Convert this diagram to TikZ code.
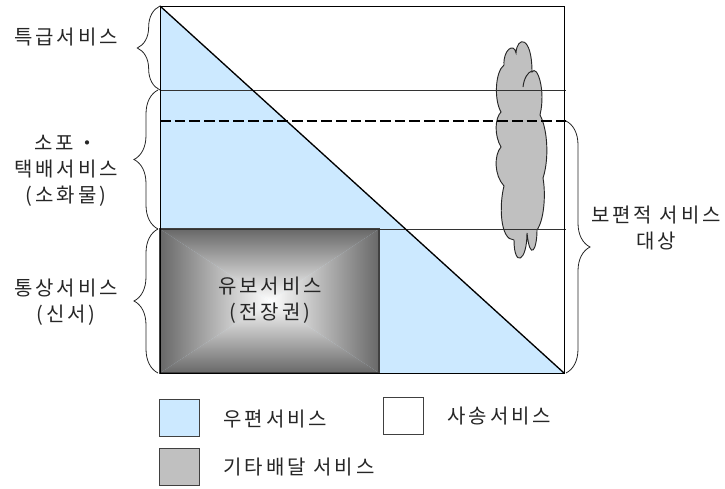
\documentclass[tikz,border=0pt]{standalone}
\usepackage{fontspec}
\setmainfont[LetterSpace=15]{Noto Sans CJK KR}
\usetikzlibrary{decorations.pathreplacing}
\definecolor{postalBlue}{RGB}{204, 233, 255}
\definecolor{otherGrey}{RGB}{192, 192, 192}
\definecolor{edgeGrey}{RGB}{104, 104, 104}
\definecolor{midGrey}{RGB}{196, 196, 196}
\begin{document}
\begin{tikzpicture}[
  x=0.75pt,y=-0.75pt,
  label/.style={align=center,font=\fontsize{15}{19.5}\selectfont,text=black!85,inner sep=0pt},
  legendbox/.style={draw=black!75,minimum width=30pt,minimum height=28pt,inner sep=0pt,thick},
  legendtext/.style={font=\fontsize{15}{17}\selectfont,text=black!85,inner sep=0pt,anchor=west},
  bracket/.style={decorate,decoration={brace,amplitude=#1},semithick,black!85},
  rule/.style={black!80,line width=0.7pt}
]
  \useasboundingbox (0,0) rectangle (725,489);
  % corners of the chart
  \coordinate (tl) at (160,6);
  \coordinate (tr) at (564,6);
  \coordinate (bl) at (160,373);
  \coordinate (br) at (564,373);
  \coordinate (gt) at (379,229);
  \coordinate (gb) at (379,373);
  \coordinate (gl) at (160,229);
  \coordinate (gc) at (270,301);
  \fill[postalBlue] (tl) -- (br) -- (bl) -- cycle;
  % gradient box
  \shade[top color=edgeGrey,middle color=midGrey,bottom color=white] (gl) -- (gt) -- (gc) -- cycle;
  \shade[bottom color=edgeGrey,middle color=midGrey,top color=white] (bl) -- (gb) -- (gc) -- cycle;
  \shade[left color=edgeGrey,middle color=midGrey,right color=white] (gl) -- (bl) -- (gc) -- cycle;
  \shade[right color=edgeGrey,middle color=midGrey,left color=white] (gt) -- (gb) -- (gc) -- cycle;
  \draw[black!75,thick] (gl) rectangle (gb);
  % cloud
  \draw[fill=otherGrey,draw=black!85,line width=0.7pt] (504,65)
    .. controls (503,50) and (514,42) .. (516,53)
    .. controls (517,36) and (532,35) .. (532,72)
    .. controls (537,64) and (546,90) .. (540,115)
    .. controls (548,130) and (549,160) .. (543,178)
    .. controls (546,195) and (544,220) .. (537,230)
    .. controls (537,250) and (530,262) .. (527,233)
    .. controls (527,262) and (514,268) .. (514,240)
    .. controls (500,240) and (499,205) .. (504,186)
    .. controls (494,175) and (494,155) .. (501,147)
    .. controls (494,135) and (495,118) .. (501,112)
    .. controls (494,100) and (495,72) .. (504,65) -- cycle;
  \draw[black!85,line width=0.7pt] (523,87) .. controls (524,78) and (528,72) .. (532,71);
  % lines
  \coordinate (l1) at (160,90);
  \coordinate (r1) at (566,90);
  \coordinate (l2) at (160,229);
  \coordinate (r2) at (566,229);
  \coordinate (l3) at (160,121);
  \coordinate (r3) at (566,121);
  \draw[rule] (l1) -- (r1);
  \draw[rule] (l2) -- (r2);
  \draw[dashed,line width=1.5pt,dash pattern=on 8pt off 3pt] (l3) -- (r3);
  \draw[line width=0.7pt] (tl) rectangle (br);
  \draw[line width=1pt] (tl) -- (br);
  % braces
  \coordinate (b1a) at (160,90);
  \coordinate (b1b) at (160,6);
  \coordinate (b2a) at (158,229);
  \coordinate (b2b) at (158,90);
  \coordinate (b3a) at (158,373);
  \coordinate (b3b) at (158,229);
  \coordinate (b4a) at (566,121);
  \coordinate (b4b) at (566,373);
  \draw[bracket=17pt] (b1a) -- (b1b);
  \draw[bracket=18pt] (b2a) -- (b2b);
  \draw[bracket=18pt] (b3a) -- (b3b);
  \draw[bracket=18pt] (b4a) -- (b4b);
  % labels
  \node[label] (express) at (66,37) {특급서비스};
  \node[label] (parcel) at (66,171) {소포・\\택배서비스\\(소화물)};
  \node[label] (letter) at (66,302) {통상서비스\\(신서)};
  \node[label] (reserved) at (270,300) {유보서비스\\(전장권)};
  \node[label] (universal) at (656,228) {보편적 서비스\\대상};
  % legend
  \node[legendbox,fill=postalBlue] (postalkey) at (179.5,418) {};
  \node[legendbox,fill=white] (privatekey) at (403.5,416) {};
  \node[legendbox,fill=otherGrey] (otherkey) at (179.5,467) {};
  \node[legendtext] (postaltext) at (223,419) {우편서비스};
  \node[legendtext] (privatetext) at (447,416) {사송서비스};
  \node[legendtext] (othertext) at (223,467) {기타배달 서비스};
\end{tikzpicture}
\end{document}
